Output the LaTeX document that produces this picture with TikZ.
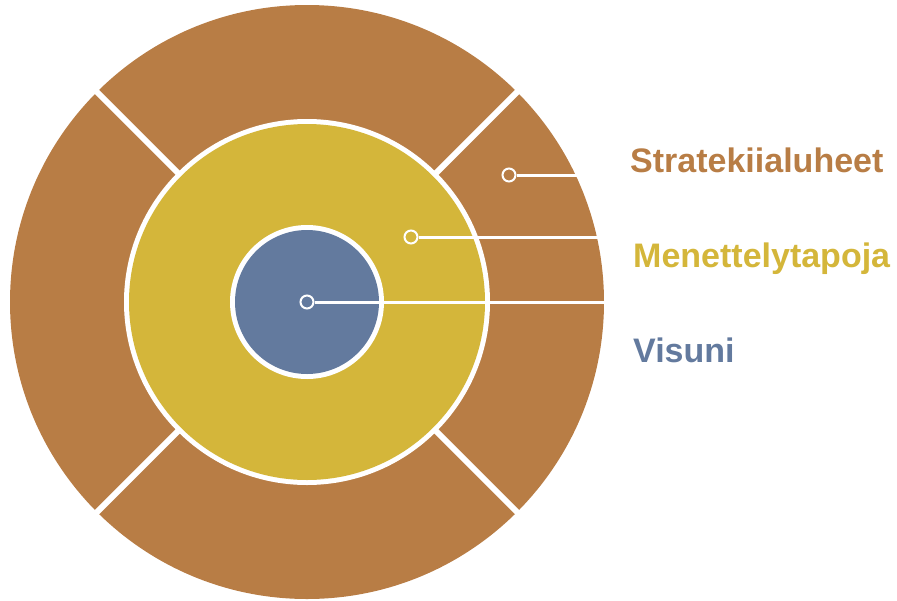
\documentclass[tikz,border=0pt]{standalone}
\usepackage{fontspec}
\setmainfont{Liberation Sans}
\definecolor{brn}{HTML}{B87D45}
\definecolor{ylw}{HTML}{D4B63A}
\definecolor{blu}{HTML}{637A9E}
\tikzset{
  divider/.style={white, line width=6pt},
  leader/.style={white, line width=3pt},
  dotmark/.style={circle, draw=white, line width=2pt, minimum size=13pt, inner sep=0pt},
  lbl/.style={anchor=base west, inner sep=0pt, font=\bfseries\fontsize{34}{40}\selectfont}
}
\begin{document}
\begin{tikzpicture}[x=1pt,y=-1pt]
\useasboundingbox (0,0) rectangle (897,600);
\coordinate (C) at (307,302);
\fill[brn] (C) circle (297);
\foreach \a in {45,135,225,315} \draw[divider] (C) ++(\a:178) -- ++(\a:125);
\fill[white] (C) circle (183);
\fill[ylw] (C) circle (178);
\fill[white] (C) circle (77);
\fill[blu] (C) circle (72);
\node[dotmark, fill=brn] (d1) at (509,175) {};
\node[dotmark, fill=ylw] (d2) at (411,237) {};
\node[dotmark, fill=blu] (d3) at (307,302) {};
\coordinate (e1) at (578,175);
\coordinate (e2) at (599,237);
\coordinate (e3) at (606,302);
\draw[leader] (d1.east) -- (e1);
\draw[leader] (d2.east) -- (e2);
\draw[leader] (d3.east) -- (e3);
\node[lbl, text=brn] (t1) at (630,172) {Stratekiialuheet};
\node[lbl, text=ylw] (t2) at (633,267) {Menettelytapoja};
\node[lbl, text=blu] (t3) at (633,362) {Visuni};
\end{tikzpicture}
\end{document}
